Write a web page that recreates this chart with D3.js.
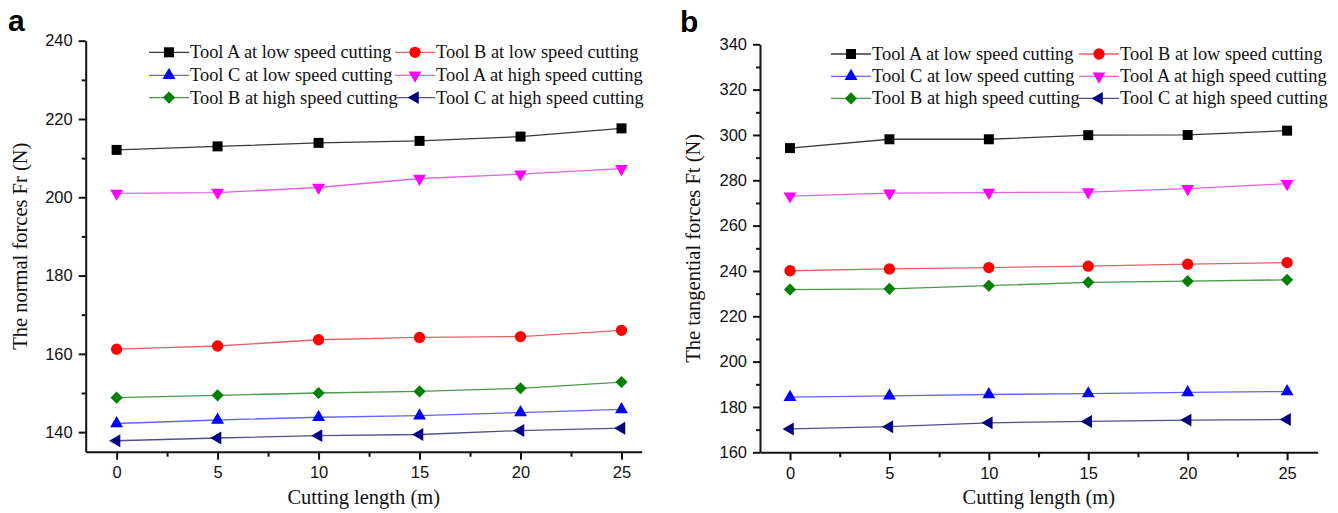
<!DOCTYPE html>
<html>
<head>
<meta charset="utf-8">
<script src="https://cdn.jsdelivr.net/npm/d3@7"></script>
<style>
  body { margin: 0; background: #fff; }
  svg { display: block; }
  .tick text { font-family: "Liberation Sans", Arial, sans-serif; font-size: 16.5px; fill: #111; }
  .axis-title { font-family: "Liberation Serif", "Times New Roman", serif; font-size: 20.5px; fill: #111; }
  .legend text { font-family: "Liberation Serif", "Times New Roman", serif; font-size: 18.4px; fill: #111; }
  .panel-label { font-family: "Liberation Sans", Arial, sans-serif; font-weight: bold; font-size: 30px; }
</style>
</head>
<body>
<svg width="1338" height="513"></svg>
<script>
// cutting length (m)
const cuttingLength = [0, 5, 10, 15, 20, 25];

const seriesNames = [
  "Tool A at low speed cutting",
  "Tool B at low speed cutting",
  "Tool C at low speed cutting",
  "Tool A at high speed cutting",
  "Tool B at high speed cutting",
  "Tool C at high speed cutting",
];

// panel a: normal forces Fr (N)
const frToolALow = [212.1, 213.0, 213.9, 214.4, 215.5, 217.6];
const frToolBLow = [161.2, 162.0, 163.6, 164.2, 164.4, 166.0];
const frToolCLow = [142.2, 143.1, 143.8, 144.2, 145.0, 145.8];
const frToolAHigh = [201.0, 201.2, 202.5, 204.8, 205.9, 207.3];
const frToolBHigh = [148.8, 149.4, 150.0, 150.4, 151.2, 152.8];
const frToolCHigh = [137.8, 138.5, 139.1, 139.4, 140.4, 141.0];

// panel b: tangential forces Ft (N)
const ftToolALow = [294.2, 298.1, 298.1, 299.9, 300.0, 301.9];
const ftToolBLow = [240.1, 240.9, 241.5, 242.1, 243.0, 243.7];
const ftToolCLow = [184.3, 184.9, 185.5, 185.9, 186.4, 186.8];
const ftToolAHigh = [273.0, 274.3, 274.6, 274.8, 276.3, 278.5];
const ftToolBHigh = [231.8, 232.1, 233.5, 235.0, 235.5, 236.1];
const ftToolCHigh = [170.3, 171.3, 173.0, 173.6, 174.2, 174.5];

const xTicks = [0, 5, 10, 15, 20, 25];
const xMinorTicks = [2.5, 7.5, 12.5, 17.5, 22.5];
const frTicks = [140, 160, 180, 200, 220, 240];
const frMinorTicks = [150, 170, 190, 210, 230];
const ftTicks = [160, 180, 200, 220, 240, 260, 280, 300, 320, 340];
const ftMinorTicks = [170, 190, 210, 230, 250, 270, 290, 310, 330];

const markerColors = ["#000000", "#ff0000", "#0000ff", "#ff00ff", "#008000", "#000080"];
const lineColors = ["#3a3a3a", "#e06464", "#6464ff", "#e064e0", "#4a9a4a", "#50508f"];
const markerShapes = [
  { type: d3.symbolSquare, size: 100, rotate: 0 },
  { type: d3.symbolCircle, size: 100, rotate: 0 },
  { type: d3.symbolTriangle, size: 72, rotate: 0 },
  { type: d3.symbolTriangle, size: 72, rotate: 180 },
  { type: d3.symbolSquare, size: 74, rotate: 45 },
  { type: d3.symbolTriangle, size: 72, rotate: -90 },
];

const panels = [
  {
    label: "a", labelX: 8, labelY: 31,
    yTitle: "The normal forces Fr (N)", yTitleX: 27,
    xDomain: [-1.53, 26.0], yDomain: [135, 240],
    left: 85.7, right: 641.7, top: 40.7, bottom: 451.7,
    yTicks: frTicks, yMinor: frMinorTicks,
    series: [frToolALow, frToolBLow, frToolCLow, frToolAHigh, frToolBHigh, frToolCHigh],
    legendCols: [149, 395], legendRows: [52.3, 75.3, 97.6],
  },
  {
    label: "b", labelX: 680, labelY: 32,
    yTitle: "The tangential forces Ft (N)", yTitleX: 700,
    xDomain: [-1.51, 26.54], yDomain: [160, 340],
    left: 760, right: 1317.7, top: 44.3, bottom: 452.3,
    yTicks: ftTicks, yMinor: ftMinorTicks,
    series: [ftToolALow, ftToolBLow, ftToolCLow, ftToolAHigh, ftToolBHigh, ftToolCHigh],
    legendCols: [831, 1079], legendRows: [54, 76.3, 98.4],
  },
];

const svg = d3.select("svg");

const symbolPath = (i) => d3.symbol().type(markerShapes[i].type).size(markerShapes[i].size)();

panels.forEach((p) => {
  const xScale = d3.scaleLinear().domain(p.xDomain).range([p.left, p.right]);
  const yScale = d3.scaleLinear().domain(p.yDomain).range([p.bottom, p.top]);

  const g = svg.append("g");

  // axes
  g.append("g")
    .attr("transform", `translate(${p.left},0)`)
    .call(d3.axisLeft(yScale).tickValues(p.yTicks).tickSize(7).tickSizeOuter(0).tickPadding(6));
  g.append("g")
    .attr("transform", `translate(${p.left},0)`)
    .call(d3.axisLeft(yScale).tickValues(p.yMinor).tickSize(4).tickFormat(""))
    .call((s) => s.select(".domain").remove());

  g.append("g")
    .attr("transform", `translate(0,${p.bottom})`)
    .call(d3.axisBottom(xScale).tickValues(xTicks).tickSize(8).tickSizeOuter(0).tickPadding(7));
  g.append("g")
    .attr("transform", `translate(0,${p.bottom})`)
    .call(d3.axisBottom(xScale).tickValues(xMinorTicks).tickSize(5).tickFormat(""))
    .call((s) => s.select(".domain").remove());

  g.selectAll(".domain, .tick line").attr("stroke", "#111").attr("stroke-width", 2);

  // titles
  g.append("text")
    .attr("class", "axis-title")
    .attr("transform", `translate(${p.yTitleX},${(p.top + p.bottom) / 2}) rotate(-90)`)
    .attr("text-anchor", "middle")
    .text(p.yTitle);

  g.append("text")
    .attr("class", "axis-title")
    .attr("x", (p.left + p.right) / 2)
    .attr("y", 504)
    .attr("text-anchor", "middle")
    .text("Cutting length (m)");

  g.append("text")
    .attr("class", "panel-label")
    .attr("x", p.labelX)
    .attr("y", p.labelY)
    .text(p.label);

  // lines + markers
  const line = d3.line()
    .x((d, i) => xScale(cuttingLength[i]))
    .y((d) => yScale(d));

  p.series.forEach((values, si) => {
    g.append("path")
      .datum(values)
      .attr("fill", "none")
      .attr("stroke", lineColors[si])
      .attr("stroke-width", 1.3)
      .attr("d", line);

    g.selectAll(null)
      .data(values)
      .enter()
      .append("path")
      .attr("d", symbolPath(si))
      .attr("transform", (d, i) =>
        `translate(${xScale(cuttingLength[i])},${yScale(d)}) rotate(${markerShapes[si].rotate})`)
      .attr("fill", markerColors[si]);
  });

  // legend
  const legend = g.append("g").attr("class", "legend");
  seriesNames.forEach((name, si) => {
    const x0 = p.legendCols[si % 2];
    const y0 = p.legendRows[Math.floor(si / 2)];
    legend.append("line")
      .attr("x1", x0).attr("x2", x0 + 40)
      .attr("y1", y0).attr("y2", y0)
      .attr("stroke", lineColors[si])
      .attr("stroke-width", 1.3);
    legend.append("path")
      .attr("d", symbolPath(si))
      .attr("transform", `translate(${x0 + 20},${y0}) rotate(${markerShapes[si].rotate})`)
      .attr("fill", markerColors[si]);
    legend.append("text")
      .attr("x", x0 + 41)
      .attr("y", y0)
      .attr("dy", "0.33em")
      .text(name);
  });
});
</script>
</body>
</html>
